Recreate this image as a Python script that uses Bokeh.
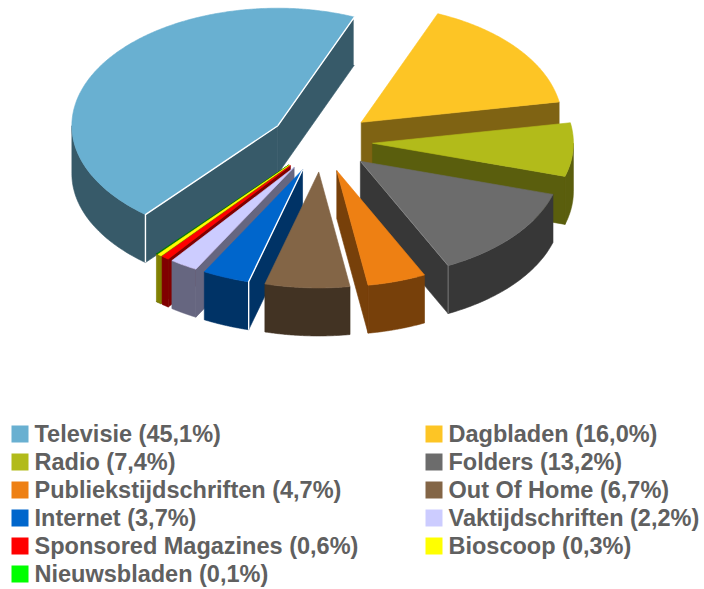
import numpy as np
from bokeh.plotting import figure
from bokeh.core.properties import value
from bokeh.embed import file_html
from bokeh.resources import INLINE

categories = ["Televisie", "Dagbladen", "Radio", "Folders", "Publiekstijdschriften", "Out Of Home",
              "Internet", "Vaktijdschriften", "Sponsored Magazines", "Bioscoop", "Nieuwsbladen"]
shares = [45.1, 16.0, 7.4, 13.2, 4.7, 6.7, 3.7, 2.2, 0.6, 0.3, 0.1]
legend_colors = ["#69B0D1", "#FDC525", "#B2BB1A", "#6C6C6C", "#EE8013", "#836546",
                 "#0066CC", "#CCCCFF", "#FF0000", "#FFFF00", "#00FF00"]
top_colors = ["#69B0D1", "#FDC525", "#B2BB1A", "#6C6C6C", "#EE8013", "#836546",
              "#0066CC", "#CCCCFF", "#FF0000", "#FFFF00", "#008000"]
side_colors = ["#375A69", "#7F6313", "#5A5E0D", "#373737", "#77400A", "#423323",
               "#003366", "#666680", "#800000", "#808000", "#808000"]
edge_colors = ["#FFFFFF", None, None, "#8A8A8A", None, None, "#FFFFFF", None, None, None, None]

# layout of the pie (page pixels)
CX, CY = 321.0, 141.0
RX_LEFT, RX_RIGHT = 206.0, 201.0
RY_BACK, RY_FRONT = 117.5, 116.0
EX, EY = 51.0, 30.5
DEPTH = 48.0
START = 130.0

p = figure(width=704, height=589, x_range=(0, 704), y_range=(589, 0),
           output_backend="svg", toolbar_location=None, min_border=0)
p.axis.visible = False
p.grid.visible = False
p.outline_line_color = None
p.background_fill_color = "white"


def poly(xs, ys, color):
    p.patch(list(xs), list(ys), fill_color=color, line_color=color, line_width=0.6)


ends = START + np.cumsum(shares) * 3.6
starts = ends - np.array(shares) * 3.6
mids = (starts + ends) / 2
order = np.argsort(np.sin(np.radians(mids)))


def rim(t):
    c, s = np.cos(np.radians(t)), np.sin(np.radians(t))
    return np.where(c < 0, RX_LEFT, RX_RIGHT) * c, np.where(s < 0, RY_BACK, RY_FRONT) * s


for i in order:
    a0, a1, m = starts[i], ends[i], mids[i]
    ax = CX + EX * np.cos(np.radians(m))
    ay = CY + EY * np.sin(np.radians(m))

    def pt(t):
        dx, dy = rim(t)
        return ax + dx, ay + dy

    # radial walls facing the viewer
    walls = []
    if np.cos(np.radians(a0)) < 0:
        walls.append(a0)
    if np.cos(np.radians(a1)) > 0:
        walls.append(a1)
    for t in walls:
        x, y = pt(t)
        poly([ax, x, x, ax], [ay, y, y + DEPTH, ay + DEPTH], side_colors[i])
    # outer wall: the part of the arc in the front half
    for base in (0, 360):
        lo, hi = max(a0, base), min(a1, base + 180)
        if hi > lo:
            tt = np.linspace(lo, hi, 60)
            xa, ya = pt(tt)
            poly(np.r_[xa, xa[::-1]], np.r_[ya, ya[::-1] + DEPTH], side_colors[i])
    # top face
    tt = np.linspace(a0, a1, max(int(a1 - a0) * 2, 4))
    xa, ya = pt(tt)
    poly(np.r_[ax, xa], np.r_[ay, ya], top_colors[i])
    # highlights
    if edge_colors[i]:
        for t in walls:
            x, y = pt(t)
            w = 1.4 if edge_colors[i] == "#FFFFFF" else 0.8
            p.line([ax, x, x], [ay, y, y + DEPTH], line_color=edge_colors[i], line_width=w)

# legend
LEG_X = [19.5, 433.5]
LEG_Y0, LEG_DY = 433.5, 28.0
for n, (c, s, col) in enumerate(zip(categories, shares, legend_colors)):
    lx = LEG_X[n % 2]
    ly = LEG_Y0 + LEG_DY * (n // 2)
    p.rect([lx], [ly], width=17, height=17, fill_color=col, line_color=None)
    label = f"{c} ({s:.1f}%)".replace(".", ",")
    p.text([lx + 14.5], [ly], text=[label], text_font=value("Liberation Sans"), text_font_style="bold",
           text_font_size="23.5px", text_color="#606060", text_baseline="middle", text_align="left")

open("out.html", "w").write(file_html(p, INLINE))
